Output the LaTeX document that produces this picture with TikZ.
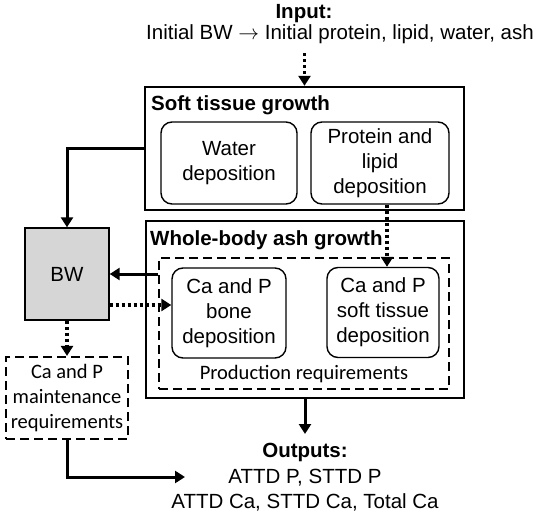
\documentclass[tikz,border=0pt]{standalone}
\usepackage{fontspec}
\setmainfont{Liberation Sans}
\newfontfamily\calibfont{Carlito}
\usetikzlibrary{arrows.meta}
\definecolor{bwgray}{HTML}{D6D6D6}

\begin{document}
\begin{tikzpicture}[x=1pt, y=-1pt, font=\fontsize{20.5}{25}\selectfont,
    frame/.style={draw, line width=2.4pt, inner sep=0pt},
    stage/.style={draw, line width=1.4pt, rounded corners=11pt, align=center, inner sep=0pt},
    reqbox/.style={draw, line width=2.2pt, dash pattern=on 9pt off 5pt, inner sep=0pt},
    title/.style={font=\fontsize{20.5}{25}\selectfont\bfseries, anchor=base west, inner sep=0pt},
    flow/.style={line width=3pt, -{Triangle[length=10pt, width=12pt]}},
    dotflow/.style={flow, line width=3.2pt, dash pattern=on 3pt off 3pt}]
    \useasboundingbox (0, 0) rectangle (536, 516);
    % Input
    \node[inner sep=0pt, anchor=base, font=\fontsize{20.5}{25}\selectfont\bfseries] (intitle) at (304, 19) {Input:};
    \node[inner sep=0pt, anchor=base] (inline) at (340, 40) {Initial BW $\rightarrow$ Initial protein, lipid, water, ash};
    % Soft tissue growth
    \node[frame, minimum width=319pt, minimum height=123pt] (soft) at (304.5, 148.5) {};
    \node[title] (softtitle) at (151, 111) {Soft tissue growth};
    \node[stage, minimum width=136pt, minimum height=82pt] (water) at (229, 163) {Water\\deposition};
    \node[stage, minimum width=138pt, minimum height=82pt] (protein) at (380, 163) {Protein and\\lipid\\deposition};
    % Whole-body ash growth
    \node[frame, minimum width=318pt, minimum height=177pt] (whole) at (305, 309.5) {};
    \node[title] (wholetitle) at (150, 245) {Whole-body ash growth};
    \node[reqbox, minimum width=290pt, minimum height=131pt] (prod) at (304, 323.5) {};
    \node[stage, minimum width=114pt, minimum height=90pt] (bone) at (229, 313) {Ca and P\\bone\\deposition};
    \node[stage, minimum width=112pt, minimum height=90pt] (softdep) at (383, 312.5) {Ca and P\\soft tissue\\deposition};
    \node[inner sep=0pt, anchor=base, font=\fontsize{20.5}{25}\calibfont] (prodlabel) at (304, 379) {Production requirements};
    % BW and maintenance
    \node[draw, fill=bwgray, line width=1.4pt, minimum width=84pt, minimum height=92pt] (bw) at (67, 274) {BW};
    \node[reqbox, align=center, minimum width=122pt, minimum height=82pt, font=\fontsize{20.5}{25}\calibfont] (maint) at (67, 398) {Ca and P\\maintenance\\requirements};
    % Outputs
    \node[inner sep=0pt, anchor=north, align=center, font=\fontsize{20.5}{25.5}\selectfont] (outputs) at (305, 443) {\textbf{Outputs:}\\ATTD P, STTD P\\ATTD Ca, STTD Ca, Total Ca};
    \coordinate (outin) at (185, 477);
    % Connectors
    \draw[dotflow, shorten <=9pt] (inline.south -| soft.north) -- (soft.north);
    \draw[flow] (soft.west) -| (bw.north);
    \draw[flow] (prod.west |- bw.east) -- (bw.east);
    \draw[dotflow] ([yshift=-31pt]bw.east) -- ([yshift=-31pt]bw.east -| bone.west);
    \draw[dotflow] ([xshift=7pt]protein.south) -- ([xshift=7pt]protein.south |- softdep.north);
    \draw[dotflow] (bw.south) -- (bw.south |- maint.north);
    \draw[flow, shorten >=9pt] (whole.south) -- (whole.south |- outputs.north);
    \draw[flow] (maint.south) |- (outin);
\end{tikzpicture}
\end{document}
